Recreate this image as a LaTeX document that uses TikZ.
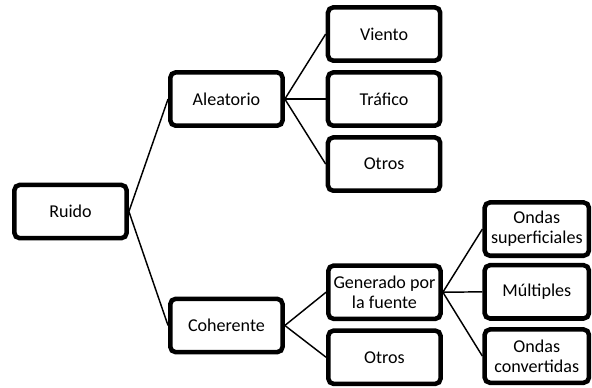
\documentclass[tikz,border=0pt]{standalone}
\usepackage{fontspec}
\setmainfont{Carlito}
\usepackage{tikz}

\begin{document}
\begin{tikzpicture}[
    box/.style={draw, line width=3.4pt, rounded corners=4pt, fill=white, align=center,
        minimum width=2.97cm, minimum height=1.41cm, font=\fontsize{13.6}{15}\selectfont},
    smallbox/.style={box, minimum width=2.76cm},
    link/.style={line width=1.1pt}
]
    \useasboundingbox (0,0) rectangle (15.66,-10.24);
    % level 1
    \node[box] (ruido) at (1.865,-5.596) {Ruido};
    % level 2
    \node[box] (aleatorio) at (5.99,-2.62) {Aleatorio};
    \node[box] (coherente) at (5.99,-8.61) {Coherente};
    % level 3
    \node[box] (viento) at (10.16,-0.90) {Viento};
    \node[box] (trafico) at (10.16,-2.62) {Tráfico};
    \node[box] (otrosA) at (10.16,-4.34) {Otros};
    \node[box] (generado) at (10.17,-7.73) {Generado por\\la fuente};
    \node[box] (otrosB) at (10.17,-9.45) {Otros};
    % level 4
    \node[smallbox] (superficiales) at (14.2,-6.06) {Ondas\\superficiales};
    \node[smallbox] (multiples) at (14.2,-7.72) {Múltiples};
    \node[smallbox] (convertidas) at (14.2,-9.42) {Ondas\\convertidas};
    % connectors
    \draw[link] (ruido.east) -- (aleatorio.west);
    \draw[link] (ruido.east) -- (coherente.west);
    \draw[link] (aleatorio.east) -- (viento.west);
    \draw[link] (aleatorio.east) -- (trafico.west);
    \draw[link] (aleatorio.east) -- (otrosA.west);
    \draw[link] (coherente.east) -- (generado.west);
    \draw[link] (coherente.east) -- (otrosB.west);
    \draw[link] (generado.east) -- (superficiales.west);
    \draw[link] (generado.east) -- (multiples.west);
    \draw[link] (generado.east) -- (convertidas.west);
\end{tikzpicture}
\end{document}
